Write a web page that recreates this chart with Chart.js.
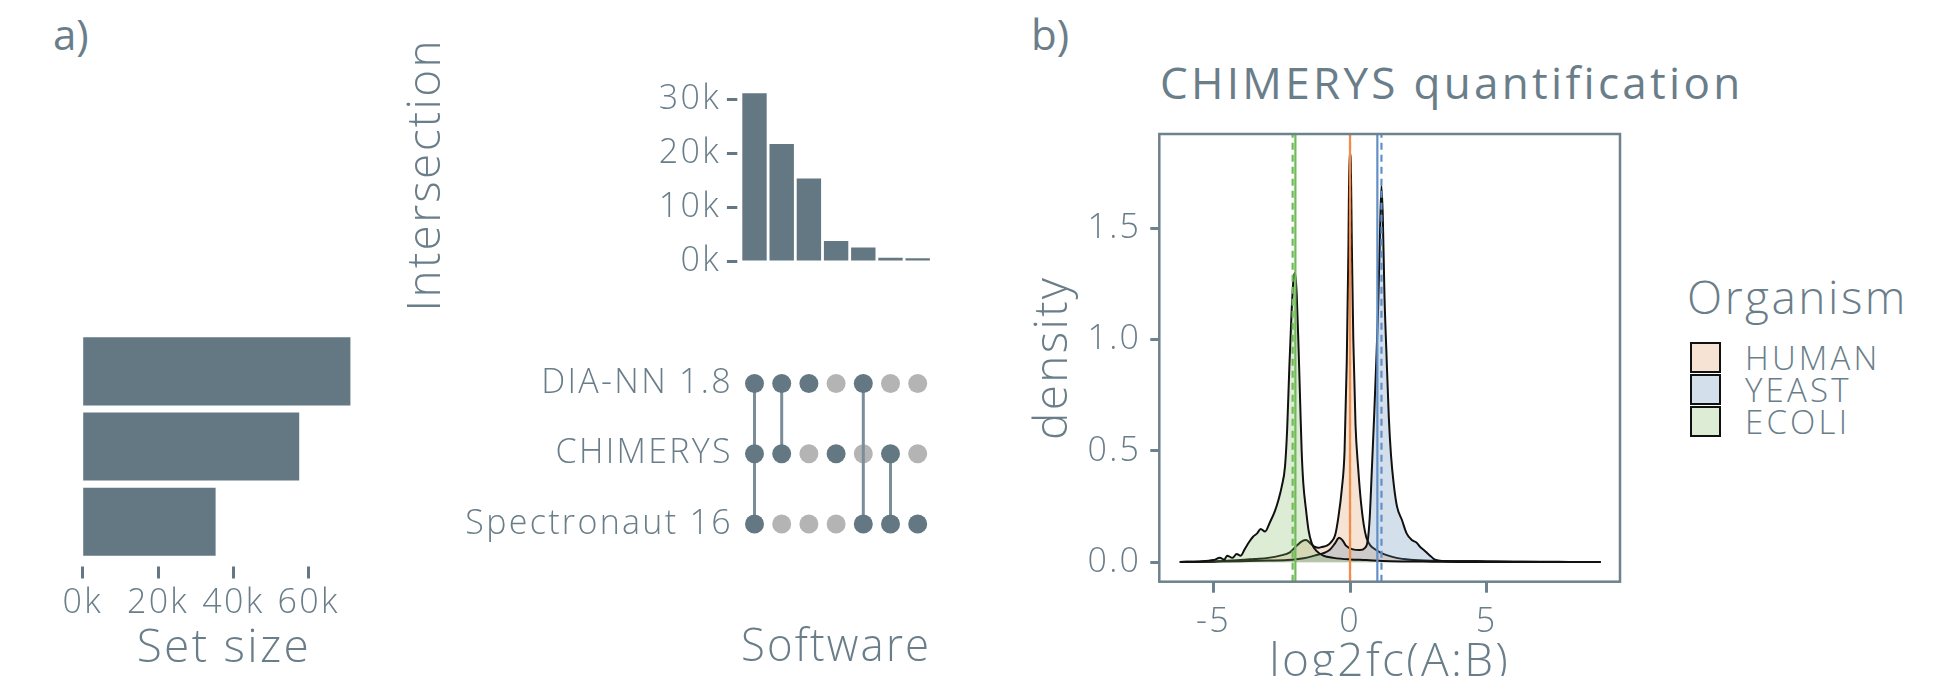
<!DOCTYPE html>
<html>
<head>
<meta charset="utf-8">
<script src="https://cdn.jsdelivr.net/npm/chart.js@4.4.1/dist/chart.umd.min.js"></script>
<style>
  body { margin: 0; background: #fff; overflow: hidden; }
  #page { position: relative; width: 1959px; height: 676px; overflow: hidden;
          font-family: "Open Sans", sans-serif; font-weight: 300; color: rgb(106,126,138); }
  canvas { position: absolute; }
  .txt { position: absolute; white-space: nowrap; line-height: 1; }
  .key { position: absolute; width: 31px; height: 31px; box-sizing: border-box; border: 2px solid #111; }
</style>
</head>
<body>
<div id="page">
  <div class="txt" style="left:53px;top:13px;font-size:42px;font-weight:400">a)</div>
  <div class="txt" style="left:1031px;top:13px;font-size:42px;font-weight:400">b)</div>
  <div class="txt" style="left:1160px;top:60px;font-size:44px;font-weight:400;letter-spacing:3.3px">CHIMERYS quantification</div>
  <div id="legend"></div>

  <canvas id="setChart" width="400" height="380" style="left:0px;top:320px"></canvas>
  <canvas id="interChart" width="580" height="300" style="left:370px;top:20px"></canvas>
  <canvas id="matrixChart" width="650" height="380" style="left:300px;top:320px"></canvas>
  <canvas id="densityChart" width="640" height="600" style="left:1010px;top:100px"></canvas>
</div>

<script>
// ---- upset plot (panel a) ----
const SETS = ["DIA-NN 1.8", "CHIMERYS", "Spectronaut 16"];
const SET_SIZE = [71100, 57500, 35300];
const SET_TICKS = [0, 20000, 40000, 60000];

const INTERSECTIONS = ["DIA-NN & CHIMERYS & Spectronaut", "DIA-NN & CHIMERYS", "DIA-NN only",
  "CHIMERYS only", "DIA-NN & Spectronaut", "CHIMERYS & Spectronaut", "Spectronaut only"];
const INTERSECTION_SIZE = [31100, 21700, 15300, 3700, 2500, 600, 500];
const INTER_TICKS = [0, 10000, 20000, 30000];

// membership of each intersection column, one row per software
const IN_DIANN       = [1, 1, 1, 0, 1, 0, 0];
const IN_CHIMERYS    = [1, 1, 0, 1, 0, 1, 0];
const IN_SPECTRONAUT = [1, 0, 0, 0, 1, 1, 1];

// ---- density plot (panel b) ----
const ORGANISMS = ["HUMAN", "YEAST", "ECOLI"];
const EXPECTED_RATIO = [0, 1, -2];
const MEDIAN_RATIO = [0, 1.15, -2.1];
const DENS_X_TICKS = [-5, 0, 5];
const DENS_Y_TICKS = [0, 0.5, 1, 1.5];

const HUMAN_X = [-6.2, -5.5, -5.0, -4.5, -4.0, -3.5, -3.0, -2.56, -2.2, -1.95, -1.75, -1.61, -1.45, -1.3, -1.15,
  -1.0, -0.85, -0.7, -0.55, -0.43, -0.3, -0.2, -0.12, -0.06, -0.02, 0.02, 0.07, 0.12, 0.2, 0.3,
  0.4, 0.5, 0.6, 0.75, 0.9, 1.1, 1.4, 1.7, 2.2, 3.0, 4.0, 5.0, 6.0, 7.0, 8.0, 9.17];
const HUMAN_Y = [0.002, 0.003, 0.004, 0.007, 0.01, 0.015, 0.02, 0.03, 0.045, 0.075, 0.095, 0.1, 0.085, 0.07, 0.065,
  0.07, 0.075, 0.09, 0.12, 0.2, 0.33, 0.5, 0.9, 1.4, 1.84, 1.82, 1.4, 1.0, 0.62, 0.42,
  0.27, 0.17, 0.11, 0.075, 0.06, 0.045, 0.03, 0.02, 0.012, 0.007, 0.005, 0.004, 0.003, 0.002, 0.002, 0.001];

const YEAST_X = [-6.2, -5.0, -4.0, -3.0, -2.3, -1.7, -1.3, -1.0, -0.75, -0.55, -0.4, -0.28, -0.15, 0.1, 0.35,
  0.55, 0.65, 0.72, 0.8, 0.88, 0.96, 1.03, 1.09, 1.15, 1.2, 1.26, 1.33, 1.42, 1.5, 1.6,
  1.72, 1.9, 2.07, 2.26, 2.44, 2.56, 2.75, 2.93, 3.11, 3.4, 4.0, 5.0, 6.0, 7.0, 8.0, 9.17];
const YEAST_Y = [0.001, 0.003, 0.005, 0.008, 0.01, 0.018, 0.03, 0.04, 0.055, 0.085, 0.11, 0.1, 0.075, 0.058, 0.055,
  0.065, 0.1, 0.2, 0.42, 0.65, 0.9, 1.15, 1.45, 1.69, 1.55, 1.2, 0.95, 0.65, 0.48, 0.35,
  0.25, 0.19, 0.13, 0.1, 0.088, 0.07, 0.05, 0.03, 0.012, 0.006, 0.005, 0.004, 0.003, 0.003, 0.002, 0.001];

const ECOLI_X = [-6.24, -5.5, -5.0, -4.76, -4.6, -4.5, -4.3, -4.15, -4.0, -3.85, -3.7, -3.55, -3.4, -3.27, -3.11,
  -2.93, -2.75, -2.62, -2.5, -2.38, -2.3, -2.22, -2.14, -2.07, -2.01, -1.95, -1.88, -1.82, -1.77, -1.71,
  -1.61, -1.52, -1.4, -1.22, -0.98, -0.6, 0.0, 0.6, 1.2, 2.0, 3.0, 4.0, 6.0, 9.17];
const ECOLI_Y = [0.002, 0.004, 0.01, 0.02, 0.012, 0.03, 0.02, 0.037, 0.03, 0.06, 0.09, 0.115, 0.13, 0.15, 0.138,
  0.18, 0.23, 0.28, 0.34, 0.43, 0.6, 0.88, 1.12, 1.27, 1.3, 1.2, 0.95, 0.7, 0.5, 0.355,
  0.235, 0.145, 0.085, 0.05, 0.03, 0.02, 0.013, 0.01, 0.006, 0.004, 0.003, 0.002, 0.001, 0.001];

const SLATE = "rgb(99,120,131)";
const TEXT = "rgb(106,126,138)";
const FRAME = "rgb(110,130,141)";
const DOT_OFF = "rgb(180,180,180)";
const LINK = "rgb(122,141,152)";
const ORG_FILL = ["rgba(223,143,79,0.25)", "rgba(79,127,171,0.25)", "rgba(115,179,87,0.25)"];
const ORG_LINE = ["rgb(240,140,72)", "rgb(98,143,199)", "rgb(112,186,88)"];

Chart.defaults.font.family = "'Open Sans', sans-serif";
Chart.defaults.font.weight = "300";
Chart.defaults.color = TEXT;
Chart.defaults.animation = false;
Chart.defaults.events = [];
Chart.defaults.plugins.legend.display = false;
Chart.defaults.plugins.tooltip.enabled = false;

// the figure font is wider than Open Sans, so space the letters a little
const spacing = {
  id: "spacing",
  beforeLayout(chart) { chart.ctx.letterSpacing = "2.3px"; },
  beforeDraw(chart) { chart.ctx.letterSpacing = "2.3px"; }
};
Chart.register(spacing);

const fixTicks = arr => scale => { scale.ticks = arr.map(v => ({ value: v })); };
const kLabel = v => (v / 1000) + "k";

// set size bars (left)
new Chart(document.getElementById("setChart"), {
  type: "bar",
  data: { labels: SETS, datasets: [{ data: SET_SIZE, backgroundColor: SLATE, barPercentage: 0.905, categoryPercentage: 1 }] },
  options: {
    responsive: false,
    indexAxis: "y",
    layout: { padding: { left: 82.7, top: 13.8, right: 34.9, bottom: 0 } },
    scales: {
      y: { display: false },
      x: {
        min: 0, max: 75000,
        afterBuildTicks: fixTicks(SET_TICKS),
        afterFit: s => { s.height = 140.7; },
        border: { display: false },
        grid: { drawOnChartArea: false, tickLength: 19.4, tickWidth: 3, tickColor: SLATE, tickBorderDash: [0, 7.4, 12, 40] },
        ticks: { padding: 4, autoSkip: false, maxRotation: 0, font: { size: 34 }, callback: kLabel },
        title: { display: true, text: "Set size", font: { size: 46 }, padding: { bottom: 24 } }
      }
    }
  }
});

// intersection size bars (top)
new Chart(document.getElementById("interChart"), {
  type: "bar",
  data: { labels: INTERSECTIONS, datasets: [{ data: INTERSECTION_SIZE, backgroundColor: SLATE, barPercentage: 0.897, categoryPercentage: 1 }] },
  options: {
    responsive: false,
    layout: { padding: { top: 68.5, right: 18.7, bottom: 59, left: 0 } },
    scales: {
      x: { display: false },
      y: {
        min: 0, max: 32000,
        afterBuildTicks: fixTicks(INTER_TICKS),
        afterFit: s => { s.width = 370.9; },
        border: { display: false },
        grid: { drawOnChartArea: false, tickLength: 14, tickWidth: 3, tickColor: SLATE, tickBorderDash: [10.4, 20] },
        ticks: { padding: 6, font: { size: 34 }, callback: kLabel },
        title: { display: true, text: "Intersection", font: { size: 46 }, padding: { top: 29.6 } }
      }
    }
  }
});

// membership matrix
const membership = [IN_DIANN, IN_CHIMERYS, IN_SPECTRONAUT];
const onPts = [], offPts = [], links = [];
INTERSECTIONS.forEach((col, i) => {
  const rows = [];
  membership.forEach((m, r) => {
    (m[i] ? onPts : offPts).push({ x: col, y: SETS[r] });
    if (m[i]) rows.push(r);
  });
  if (rows.length > 1) {
    links.push({
      data: [{ x: col, y: SETS[rows[0]] }, { x: col, y: SETS[rows[rows.length - 1]] }],
      showLine: true, pointRadius: 0, borderColor: LINK, borderWidth: 3, order: 1
    });
  }
});

new Chart(document.getElementById("matrixChart"), {
  type: "scatter",
  data: {
    datasets: [
      { data: onPts, pointRadius: 9.5, backgroundColor: SLATE, borderWidth: 0, order: 0 },
      ...links,
      { data: offPts, pointRadius: 9.5, backgroundColor: DOT_OFF, borderWidth: 0, order: 2 }
    ]
  },
  options: {
    responsive: false,
    layout: { padding: { top: 14.2, right: 18.7, bottom: 0, left: 0 } },
    scales: {
      x: {
        type: "category", labels: INTERSECTIONS, offset: true,
        afterFit: s => { s.height = 140.8; },
        border: { display: false },
        grid: { display: false, drawTicks: false },
        ticks: { display: false },
        title: { display: true, text: "Software", font: { size: 46 }, padding: { bottom: 25 } }
      },
      y: {
        type: "category", labels: SETS, offset: true,
        afterFit: s => { s.width = 440.9; },
        border: { display: false },
        grid: { display: false, drawTicks: false },
        ticks: { padding: 8, font: { size: 34 } }
      }
    }
  }
});

// density plot
const panelFrame = {
  id: "panelFrame",
  afterDatasetsDraw(chart) {
    const { ctx, chartArea: a } = chart;
    ctx.save();
    ctx.strokeStyle = FRAME;
    ctx.lineWidth = 2.5;
    ctx.strokeRect(a.left, a.top, a.right - a.left, a.bottom - a.top);
    ctx.restore();
  }
};

const Y_MIN = -0.087, Y_MAX = 1.923;
const curveX = [HUMAN_X, YEAST_X, ECOLI_X];
const curveY = [HUMAN_Y, YEAST_Y, ECOLI_Y];

const densitySets = ORGANISMS.map((org, k) => ({
  label: org,
  data: curveX[k].map((x, i) => ({ x: x, y: curveY[k][i] })),
  showLine: true, pointRadius: 0, fill: "origin",
  backgroundColor: ORG_FILL[k], borderColor: "#111", borderWidth: 2,
  cubicInterpolationMode: "monotone",
  order: 3 - k
}));

const vlineSets = [];
ORGANISMS.forEach((org, k) => {
  vlineSets.push({
    data: [{ x: EXPECTED_RATIO[k], y: Y_MIN }, { x: EXPECTED_RATIO[k], y: Y_MAX }],
    showLine: true, pointRadius: 0, borderColor: ORG_LINE[k], borderWidth: 2.2, order: 0
  });
  vlineSets.push({
    data: [{ x: MEDIAN_RATIO[k], y: Y_MIN }, { x: MEDIAN_RATIO[k], y: Y_MAX }],
    showLine: true, pointRadius: 0, borderColor: ORG_LINE[k], borderWidth: 2.2, borderDash: [7, 5], order: 0
  });
});

new Chart(document.getElementById("densityChart"), {
  type: "scatter",
  data: { datasets: [...densitySets, ...vlineSets] },
  options: {
    responsive: false,
    layout: { padding: { top: 34, right: 30, bottom: 0, left: 0 } },
    scales: {
      x: {
        type: "linear", min: -6.98, max: 9.88,
        afterBuildTicks: fixTicks(DENS_X_TICKS),
        afterFit: s => { s.height = 118.3; },
        border: { display: false },
        grid: { drawOnChartArea: false, tickLength: 11, tickWidth: 3, tickColor: FRAME },
        ticks: { padding: 9, maxRotation: 0, font: { size: 34 }, callback: v => String(v) },
        title: { display: true, text: "log2fc(A:B)", font: { size: 46 }, padding: { bottom: 10 } }
      },
      y: {
        type: "linear", min: Y_MIN, max: Y_MAX,
        afterBuildTicks: fixTicks(DENS_Y_TICKS),
        afterFit: s => { s.width = 149.3; },
        border: { display: false },
        grid: { drawOnChartArea: false, tickLength: 9, tickWidth: 3, tickColor: FRAME },
        ticks: { padding: 9, font: { size: 34 }, callback: v => v.toFixed(1) },
        title: { display: true, text: "density", font: { size: 46 }, padding: { top: 16.6 } }
      }
    }
  },
  plugins: [panelFrame]
});

// legend for the density plot
const legend = document.getElementById("legend");
let html = '<div class="txt" style="left:1687px;top:273px;font-size:46px;letter-spacing:2.5px">Organism</div>';
ORGANISMS.forEach((org, k) => {
  const top = 341.7 + k * 32.3;
  html += '<div class="key" style="left:1690px;top:' + top + 'px;background:' + ORG_FILL[k] + '"></div>';
  html += '<div class="txt" style="left:1745px;top:' + (top - 1) + 'px;font-size:33px;letter-spacing:3.2px">' + org + '</div>';
});
legend.innerHTML = html;
</script>
</body>
</html>
